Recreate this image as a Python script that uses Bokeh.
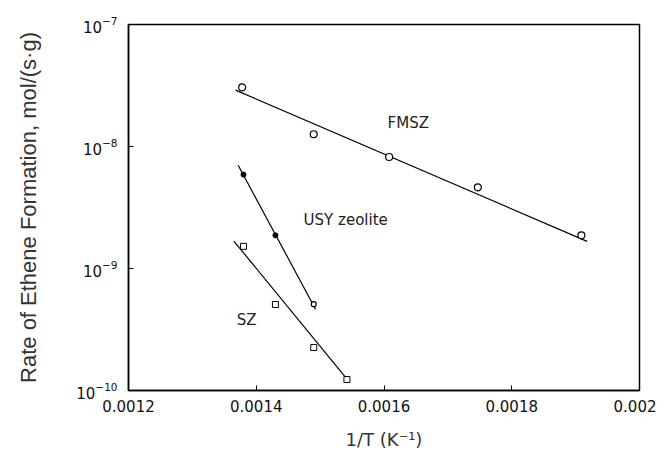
from bokeh.plotting import figure
from bokeh.embed import file_html
from bokeh.resources import INLINE
from bokeh.models import FixedTicker, ColumnDataSource
from bokeh.core.properties import value

FONT = "DejaVu Sans"
YLABEL_FONT = "Liberation Sans"

# Data (x = 1/T in 1/K, y = rate in mol/(s*g))
fmsz_x = [0.001378, 0.00149, 0.001608, 0.001747, 0.001909]
fmsz_y = [3.05e-8, 1.26e-8, 8.2e-9, 4.63e-9, 1.87e-9]
fmsz_fit_x = [0.0013675, 0.001918]
fmsz_fit_y = [2.9e-8, 1.67e-9]

usy_x = [0.00138, 0.00143]
usy_y = [5.89e-9, 1.87e-9]
usy_open_x = [0.00149]
usy_open_y = [5.1e-10]
usy_fit_x = [0.0013717, 0.0014928]
usy_fit_y = [7.02e-9, 4.64e-10]

sz_x = [0.00138, 0.00143, 0.00149, 0.001542]
sz_y = [1.52e-9, 5.07e-10, 2.25e-10, 1.23e-10]
sz_fit_x = [0.0013649, 0.001545]
sz_fit_y = [1.68e-9, 1.19e-10]

x_ticks = [0.0012, 0.0014, 0.0016, 0.0018, 0.002]
x_tick_labels = ["0.0012", "0.0014", "0.0016", "0.0018", "0.002"]
y_ticks = [1e-10, 1e-9, 1e-8, 1e-7]

label_text = ["FMSZ", "USY zeolite", "SZ"]
label_x = [0.001638, 0.00154, 0.001385]
label_y = [1.55e-8, 2.48e-9, 3.75e-10]

p = figure(width=656, height=448, output_backend="svg", toolbar_location=None,
           y_axis_type="log", x_range=(0.0012, 0.002), y_range=(1e-10, 1e-7),
           frame_width=511, frame_height=366,
           min_border_left=128, min_border_top=24, min_border_right=17, min_border_bottom=58)

p.grid.visible = False
p.outline_line_color = "black"
p.outline_line_width = 1.5
p.background_fill_color = "white"
p.border_fill_color = "white"

for ax in (p.xaxis[0], p.yaxis[0]):
    ax.axis_line_width = 1.5
    ax.axis_line_color = "black"
    ax.major_tick_in = 5
    ax.major_tick_out = 0
    ax.major_tick_line_color = "black"
    ax.minor_tick_line_color = None
    ax.major_label_text_font = FONT
    ax.major_label_text_font_size = "15px"
    ax.major_label_text_color = "#111111"
    ax.axis_label_text_font_style = "normal"
    ax.axis_label_text_color = "#333333"

p.xaxis.axis_label_text_font = FONT
p.xaxis.axis_label_text_font_size = "18px"
p.yaxis.axis_label_text_font = YLABEL_FONT
p.yaxis.axis_label_text_font_size = "22px"

p.xaxis.ticker = FixedTicker(ticks=x_ticks)
p.xaxis.major_label_overrides = {t: l for t, l in zip(x_ticks, x_tick_labels)}
p.yaxis.ticker = FixedTicker(ticks=y_ticks)
p.xaxis.major_label_standoff = 9
p.yaxis.major_label_standoff = 11
p.xaxis.axis_label = "1/T (K\u207b\u00b9)"
p.yaxis.axis_label = "Rate of Ethene Formation, mol/(s\u00b7g)"
p.xaxis.axis_label_standoff = 14
p.yaxis.axis_label_standoff = 32

# fit lines
p.line(fmsz_fit_x, fmsz_fit_y, line_color="black", line_width=1.2)
p.line(usy_fit_x, usy_fit_y, line_color="black", line_width=1.2)
p.line(sz_fit_x, sz_fit_y, line_color="black", line_width=1.2)

# markers
p.scatter(fmsz_x, fmsz_y, marker="circle", size=7, fill_color="white", line_color="black", line_width=1.2)
p.scatter(usy_x, usy_y, marker="circle", size=5, fill_color="black", line_color="black")
p.scatter(usy_open_x, usy_open_y, marker="circle", size=5, fill_color="white", line_color="black", line_width=1.2)
p.scatter(sz_x, sz_y, marker="square", size=6, fill_color="white", line_color="black", line_width=1)

src = ColumnDataSource(dict(x=label_x, y=label_y, t=label_text))
p.text(x="x", y="y", text="t", source=src, text_font=value(FONT), text_font_size="15px",
       text_align="center", text_baseline="middle", text_color="#222222")

open("out.html", "w").write(file_html(p, INLINE))
